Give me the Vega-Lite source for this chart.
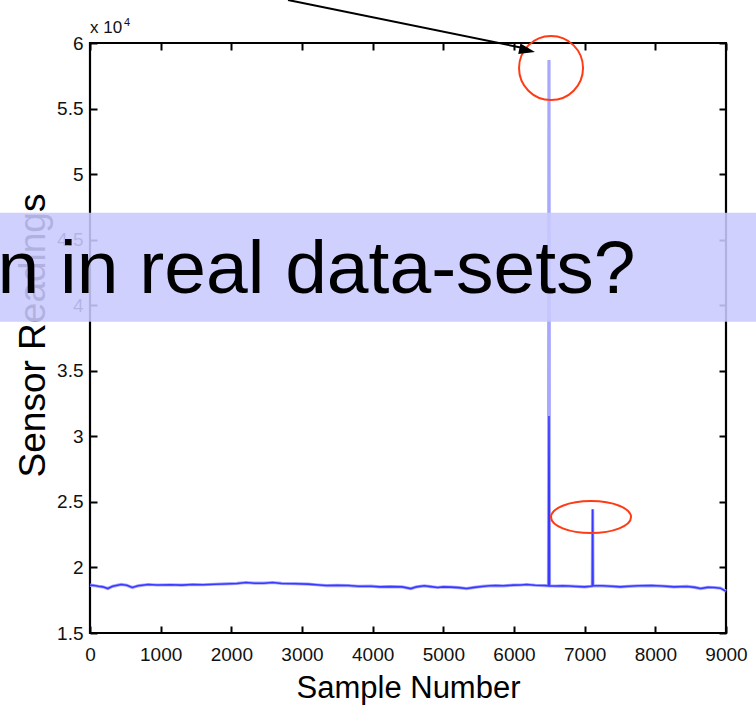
{
  "$schema": "https://vega.github.io/schema/vega-lite/v6.json",
  "width": 636,
  "height": 590,
  "autosize": "none",
  "padding": {"left": 90, "top": 43, "right": 30, "bottom": 73},
  "background": "white",
  "config": {
    "view": {"stroke": "black", "strokeWidth": 2.2},
    "font": "Liberation Sans",
    "axis": {
      "grid": false,
      "domain": false,
      "tickColor": "black",
      "tickWidth": 2,
      "tickSize": 7,
      "offset": -7,
      "labelOverlap": false,
      "labelFlush": false,
      "labelFont": "Liberation Sans",
      "labelColor": "#111111",
      "titleFont": "Liberation Sans",
      "titleFontWeight": "normal",
      "titleColor": "black"
    }
  },
  "datasets": {
    "readings": [
      {"s": 0, "light": 18650, "dark": 18650},
      {"s": 60, "light": 18620, "dark": 18620},
      {"s": 120, "light": 18560, "dark": 18560},
      {"s": 180, "light": 18520, "dark": 18520},
      {"s": 252, "light": 18390, "dark": 18390},
      {"s": 320, "light": 18560, "dark": 18560},
      {"s": 441, "light": 18700, "dark": 18700},
      {"s": 520, "light": 18640, "dark": 18640},
      {"s": 599, "light": 18470, "dark": 18470},
      {"s": 680, "light": 18600, "dark": 18600},
      {"s": 820, "light": 18700, "dark": 18700},
      {"s": 950, "light": 18660, "dark": 18660},
      {"s": 1135, "light": 18680, "dark": 18680},
      {"s": 1300, "light": 18650, "dark": 18650},
      {"s": 1451, "light": 18700, "dark": 18700},
      {"s": 1600, "light": 18680, "dark": 18680},
      {"s": 1766, "light": 18720, "dark": 18720},
      {"s": 1900, "light": 18740, "dark": 18740},
      {"s": 2081, "light": 18780, "dark": 18780},
      {"s": 2207, "light": 18850, "dark": 18850},
      {"s": 2330, "light": 18800, "dark": 18800},
      {"s": 2460, "light": 18800, "dark": 18800},
      {"s": 2586, "light": 18850, "dark": 18850},
      {"s": 2712, "light": 18780, "dark": 18780},
      {"s": 2900, "light": 18760, "dark": 18760},
      {"s": 3090, "light": 18730, "dark": 18730},
      {"s": 3200, "light": 18680, "dark": 18680},
      {"s": 3343, "light": 18620, "dark": 18620},
      {"s": 3500, "light": 18640, "dark": 18640},
      {"s": 3658, "light": 18620, "dark": 18620},
      {"s": 3800, "light": 18560, "dark": 18560},
      {"s": 3973, "light": 18570, "dark": 18570},
      {"s": 4100, "light": 18520, "dark": 18520},
      {"s": 4250, "light": 18540, "dark": 18540},
      {"s": 4415, "light": 18520, "dark": 18520},
      {"s": 4541, "light": 18390, "dark": 18390},
      {"s": 4620, "light": 18520, "dark": 18520},
      {"s": 4730, "light": 18600, "dark": 18600},
      {"s": 4820, "light": 18540, "dark": 18540},
      {"s": 4919, "light": 18470, "dark": 18470},
      {"s": 5000, "light": 18520, "dark": 18520},
      {"s": 5109, "light": 18500, "dark": 18500},
      {"s": 5220, "light": 18460, "dark": 18460},
      {"s": 5329, "light": 18390, "dark": 18390},
      {"s": 5440, "light": 18480, "dark": 18480},
      {"s": 5550, "light": 18550, "dark": 18550},
      {"s": 5650, "light": 18600, "dark": 18600},
      {"s": 5739, "light": 18620, "dark": 18620},
      {"s": 5850, "light": 18600, "dark": 18600},
      {"s": 5991, "light": 18650, "dark": 18650},
      {"s": 6100, "light": 18660, "dark": 18660},
      {"s": 6180, "light": 18700, "dark": 18700},
      {"s": 6300, "light": 18640, "dark": 18640},
      {"s": 6433, "light": 18620, "dark": 18620},
      {"s": 6488, "light": 18600, "dark": 18600},
      {"s": 6495, "light": 58700, "dark": 31550},
      {"s": 6502, "light": 18600, "dark": 18600},
      {"s": 6600, "light": 18580, "dark": 18580},
      {"s": 6685, "light": 18600, "dark": 18600},
      {"s": 6780, "light": 18580, "dark": 18580},
      {"s": 6874, "light": 18550, "dark": 18550},
      {"s": 7001, "light": 18520, "dark": 18520},
      {"s": 7080, "light": 18560, "dark": 18560},
      {"s": 7108, "light": 18580, "dark": 18580},
      {"s": 7113, "light": 24430, "dark": 24430},
      {"s": 7118, "light": 18600, "dark": 18600},
      {"s": 7250, "light": 18600, "dark": 18600},
      {"s": 7380, "light": 18560, "dark": 18560},
      {"s": 7505, "light": 18520, "dark": 18520},
      {"s": 7620, "light": 18560, "dark": 18560},
      {"s": 7757, "light": 18600, "dark": 18600},
      {"s": 7947, "light": 18620, "dark": 18620},
      {"s": 8100, "light": 18580, "dark": 18580},
      {"s": 8262, "light": 18520, "dark": 18520},
      {"s": 8451, "light": 18550, "dark": 18550},
      {"s": 8560, "light": 18480, "dark": 18480},
      {"s": 8640, "light": 18390, "dark": 18390},
      {"s": 8740, "light": 18480, "dark": 18480},
      {"s": 8829, "light": 18470, "dark": 18470},
      {"s": 8920, "light": 18420, "dark": 18420},
      {"s": 9000, "light": 18190, "dark": 18190}
    ]
  },
  "layer": [
    {
      "data": {"name": "readings"},
      "mark": {"type": "line", "color": "#a8a8ff", "strokeWidth": 3.2, "interpolate": "linear"},
      "encoding": {
        "x": {
          "field": "s", "type": "quantitative",
          "scale": {"domain": [0, 9000], "nice": false, "zero": false},
          "axis": {
            "orient": "bottom",
            "offset": -7,
            "values": [0, 1000, 2000, 3000, 4000, 5000, 6000, 7000, 8000, 9000],
            "format": "d",
            "labelFontSize": 19,
            "labelPadding": 12,
            "labelBaseline": "top",
            "labelOverlap": false,
            "title": "Sample Number",
            "titleFontSize": 31,
            "titleX": 318,
            "titleY": 71,
            "titleAlign": "center",
            "titleBaseline": "alphabetic"
          }
        },
        "y": {
          "field": "light", "type": "quantitative",
          "scale": {"domain": [15000, 60000], "nice": false, "zero": false},
          "axis": {
            "orient": "left",
            "offset": -7,
            "values": [15000, 20000, 25000, 30000, 35000, 40000, 45000, 50000, 55000, 60000],
            "labelExpr": "format(datum.value / 10000, '~g')",
            "labelFontSize": 19,
            "labelPadding": 7,
            "labelOverlap": false,
            "title": "Sensor Readings",
            "titleFontSize": 37,
            "titleAngle": -90,
            "titleX": -53,
            "titleY": 292,
            "titleAlign": "center",
            "titleBaseline": "alphabetic"
          }
        }
      }
    },
    {
      "data": {"name": "readings"},
      "mark": {"type": "line", "color": "#3a3aff", "strokeWidth": 1.6, "interpolate": "linear"},
      "encoding": {
        "x": {
          "field": "s", "type": "quantitative",
          "axis": {
            "orient": "top",
            "offset": -7,
            "values": [0, 1000, 2000, 3000, 4000, 5000, 6000, 7000, 8000, 9000],
            "labels": false,
            "title": null
          }
        },
        "y": {
          "field": "dark", "type": "quantitative",
          "axis": {
            "orient": "right",
            "offset": -7,
            "values": [15000, 20000, 25000, 30000, 35000, 40000, 45000, 50000, 55000, 60000],
            "labels": false,
            "title": null
          }
        }
      }
    },
    {
      "data": {"values": [{"note": "outlier"}]},
      "mark": {"type": "point", "shape": "circle", "filled": false, "stroke": "#ff3b16", "strokeWidth": 2, "size": 4096, "opacity": 1},
      "encoding": {
        "x": {"datum": 6524, "type": "quantitative", "axis": null},
        "y": {"datum": 58090, "type": "quantitative", "axis": null}
      }
    },
    {
      "data": {"values": [{"note": "outlier"}]},
      "mark": {"type": "point", "shape": "M -1 0 A 1 0.4 0 1 0 1 0 A 1 0.4 0 1 0 -1 0 Z", "filled": false, "stroke": "#ff3b16", "strokeWidth": 2, "size": 6400, "opacity": 1},
      "encoding": {
        "x": {"datum": 7090, "type": "quantitative", "axis": null},
        "y": {"datum": 23840, "type": "quantitative", "axis": null}
      }
    },
    {
      "data": {"values": [{"note": "arrow"}]},
      "mark": {"type": "rule", "color": "black", "strokeWidth": 2},
      "encoding": {
        "x": {"datum": 2802, "type": "quantitative", "axis": null},
        "y": {"datum": 63280, "type": "quantitative", "axis": null},
        "x2": {"datum": 6200},
        "y2": {"datum": 59540}
      }
    },
    {
      "data": {"values": [{"note": "arrowhead"}]},
      "mark": {"type": "point", "shape": "M 0 0 L -1 -0.33 L -1 0.33 Z", "filled": true, "color": "black", "size": 1024, "angle": 12, "opacity": 1},
      "encoding": {
        "x": {"datum": 6297, "type": "quantitative", "axis": null},
        "y": {"datum": 59310, "type": "quantitative", "axis": null}
      }
    },
    {
      "data": {"values": [{"t": "x 10"}]},
      "mark": {"type": "text", "align": "left", "baseline": "alphabetic", "fontSize": 17, "color": "#111111", "font": "Liberation Sans"},
      "encoding": {
        "x": {"datum": 0, "type": "quantitative", "axis": null},
        "y": {"datum": 60760, "type": "quantitative", "axis": null},
        "text": {"field": "t"}
      }
    },
    {
      "data": {"values": [{"t": "4"}]},
      "mark": {"type": "text", "align": "left", "baseline": "alphabetic", "fontSize": 11, "color": "#111111", "font": "Liberation Sans"},
      "encoding": {
        "x": {"datum": 481, "type": "quantitative", "axis": null},
        "y": {"datum": 61300, "type": "quantitative", "axis": null},
        "text": {"field": "t"}
      }
    },
    {
      "data": {"values": [{"note": "title band"}]},
      "mark": {"type": "rect", "color": "#c9c9ff", "opacity": 0.88},
      "encoding": {
        "x": {"datum": -1274, "type": "quantitative", "axis": null},
        "x2": {"datum": 9425},
        "y": {"datum": 38740, "type": "quantitative", "axis": null},
        "y2": {"datum": 47060}
      }
    },
    {
      "data": {"values": [{"t": "n in real data-sets?"}]},
      "mark": {"type": "text", "align": "left", "baseline": "alphabetic", "fontSize": 75, "color": "black", "font": "Liberation Sans"},
      "encoding": {
        "x": {"datum": -1309, "type": "quantitative", "axis": null},
        "y": {"datum": 40910, "type": "quantitative", "axis": null},
        "text": {"field": "t"}
      }
    }
  ],
  "resolve": {"axis": {"x": "independent", "y": "independent"}}
}
